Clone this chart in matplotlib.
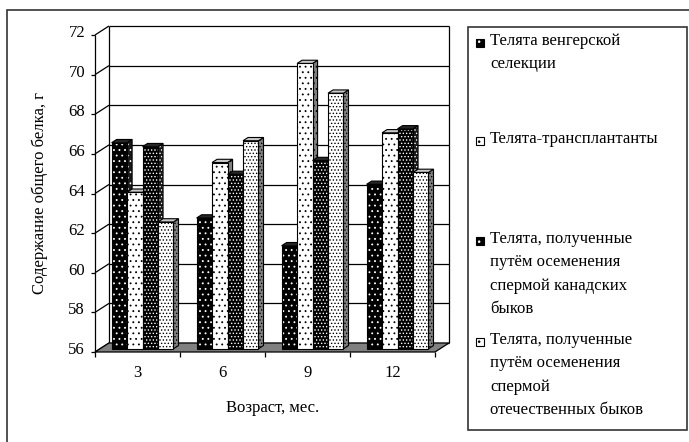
import matplotlib
matplotlib.use('Agg')
import matplotlib.pyplot as plt
from matplotlib.patches import Polygon, Rectangle

# ---- data ----
ages = ['3', '6', '9', '12']
hungarian = [66.4, 62.6, 61.2, 64.3]
transplant = [63.9, 65.4, 70.4, 66.9]
canadian = [66.2, 64.8, 65.5, 67.1]
domestic = [62.4, 66.5, 68.9, 64.9]
series_names = [
    'Телята венгерской\nселекции',
    'Телята-трансплантанты',
    'Телята, полученные\nпутём осеменения\nспермой канадских\nбыков',
    'Телята, полученные\nпутём осеменения\nспермой\nотечественных быков',
]
y_ticks = [56, 58, 60, 62, 64, 66, 68, 70, 72]
x_label = 'Возраст, мес.'
y_label = 'Содержание общего белка, г'

series = [hungarian, transplant, canadian, domestic]
# (face colour, dot colour, hatch, side colour, top colour)
styles = [
    ('#000000', '#ffffff', '...', '#1a1a1a', '#262626'),
    ('#ffffff', '#000000', '...', '#808080', '#c8c8c8'),
    ('#000000', '#ffffff', '.....', '#1a1a1a', '#262626'),
    ('#ffffff', '#000000', '.....', '#808080', '#c8c8c8'),
]

plt.rcParams['font.family'] = ['Liberation Serif', 'DejaVu Serif']
plt.rcParams['hatch.linewidth'] = 0.6

W, H = 689, 442
fig = plt.figure(figsize=(W / 100, H / 100), dpi=100)


def fx(x):
    return x / W


def fy(y):
    return 1 - y / H


# front plane of the pseudo-3D box (pixels)
X0, X1, YT, YB = 95, 435, 35, 352
ax = fig.add_axes([fx(X0), fy(YB), (X1 - X0) / W, (YB - YT) / H])
ax.set_xlim(0, len(ages))
ax.set_ylim(y_ticks[0], y_ticks[-1])
ax.axis('off')

ppx = (X1 - X0) / len(ages)
ppy = (YB - YT) / (y_ticks[-1] - y_ticks[0])
DX = 14 / ppx          # depth offset in x data units
DY = 9 / ppy           # depth offset in y data units
ymin, ymax = y_ticks[0], y_ticks[-1]
n = len(ages)
lk = dict(color='black', lw=0.9, clip_on=False, solid_capstyle='butt')

# back wall gridlines and edges
for v in y_ticks:
    ax.plot([DX, n + DX], [v + DY, v + DY], zorder=1, **lk)
    ax.plot([0, DX], [v, v + DY], zorder=1, **lk)
    ax.plot([-4 / ppx, 0], [v, v], zorder=1, **lk)
ax.plot([DX, DX], [ymin + DY, ymax + DY], zorder=1, **lk)
ax.plot([n + DX, n + DX], [ymin + DY, ymax + DY], zorder=1, **lk)
ax.plot([0, 0], [ymin, ymax], zorder=6, **lk)

# floor
ax.add_patch(Polygon([(0, ymin), (n, ymin), (n + DX, ymin + DY), (DX, ymin + DY)],
                     closed=True, facecolor='#808080', edgecolor='black', lw=0.9,
                     clip_on=False, zorder=2))
for k in range(n + 1):
    ax.plot([k, k], [ymin, ymin - 5 / ppy], zorder=2, **lk)

# bars
f0, f1 = 0.36, 0.72
bw = 0.182
ox, oy = f0 * DX, f0 * DY
ddx, ddy = (f1 - f0) * DX, (f1 - f0) * DY
z = 3
for i in range(n):
    for j, (vals, st) in enumerate(zip(series, styles)):
        face, dot, hatch, side, top = st
        xl = i + 0.5 - 2 * bw + j * bw + ox
        xr = xl + bw
        yb = ymin + oy
        yt = vals[i] + oy
        # right side face
        sp = [(xr, yb), (xr + ddx, yb + ddy), (xr + ddx, yt + ddy), (xr, yt)]
        ax.add_patch(Polygon(sp, closed=True, facecolor=side, edgecolor='none',
                             clip_on=False, zorder=z))
        ax.add_patch(Polygon(sp, closed=True, facecolor='none', edgecolor=dot, lw=0,
                             hatch=hatch, clip_on=False, zorder=z))
        ax.add_patch(Polygon(sp, closed=True, facecolor='none', edgecolor='black', lw=0.8,
                             clip_on=False, zorder=z))
        # top face
        tp = [(xl, yt), (xr, yt), (xr + ddx, yt + ddy), (xl + ddx, yt + ddy)]
        ax.add_patch(Polygon(tp, closed=True, facecolor=top, edgecolor='black', lw=0.8,
                             clip_on=False, zorder=z))
        # front face
        ax.bar(xl, vals[i] - ymin, width=bw, bottom=yb, align='edge', color=face,
               edgecolor=dot, linewidth=0, hatch=hatch, zorder=z, clip_on=False)
        ax.bar(xl, vals[i] - ymin, width=bw, bottom=yb, align='edge', fill=False,
               edgecolor='black', linewidth=0.8, zorder=z, clip_on=False)
        z += 1

# tick labels
fs = 12
for v in y_ticks:
    ax.text(-10 / ppx, v + 2 / ppy, str(v), ha='right', va='center', fontsize=fs,
            clip_on=False)
for i, lab in enumerate(ages):
    ax.text(i + 0.5, ymin - 21 / ppy, lab, ha='center', va='center', fontsize=fs,
            clip_on=False)

fig.text(fx(273), fy(408), x_label, ha='center', va='center', fontsize=fs)
fig.text(fx(40), fy(193), y_label, ha='center', va='center', rotation=90, fontsize=fs)

# outer frame and legend box
fig.add_artist(Rectangle((fx(7), fy(470)), (720 - 7) / W, (470 - 10) / H,
                         transform=fig.transFigure, facecolor='none',
                         edgecolor='#333333', lw=1.2))
fig.add_artist(Rectangle((fx(468), fy(430)), (687 - 468) / W, (430 - 27) / H,
                         transform=fig.transFigure, facecolor='none',
                         edgecolor='#333333', lw=1.2))

legend_y = [43, 141, 241, 342]
for name, st, ly in zip(series_names, styles, legend_y):
    face, dot, hatch, side, top = st
    s = 8
    for kw in (dict(facecolor=face, edgecolor='none'),
               dict(facecolor='none', edgecolor=dot, hatch='..', lw=0),
               dict(facecolor='none', edgecolor='black', lw=0.8)):
        fig.add_artist(Rectangle((fx(476), fy(ly + s / 2)), s / W, s / H,
                                 transform=fig.transFigure, **kw))
    fig.text(fx(490), fy(ly - 10), name, ha='left', va='top', fontsize=fs,
             linespacing=1.62)

fig.savefig('out.png', dpi=100)
